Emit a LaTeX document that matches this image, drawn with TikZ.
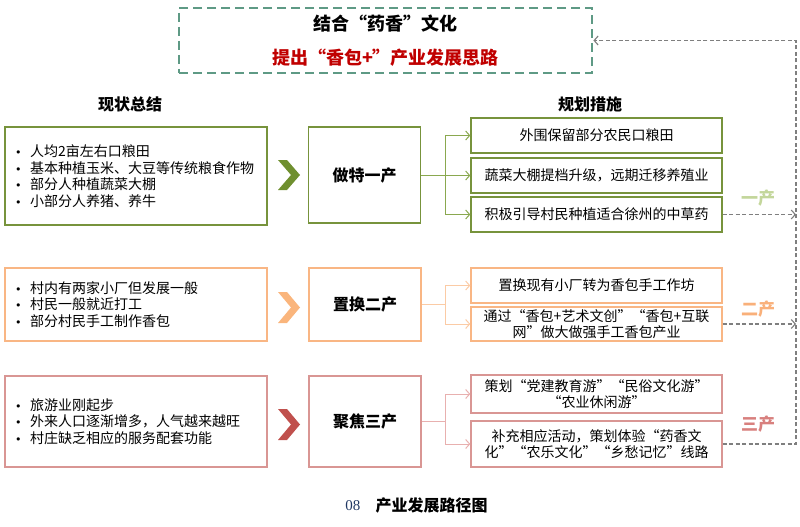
\documentclass[tikz,border=0pt]{standalone}
\usepackage{fontspec}
\setmainfont{Noto Sans CJK SC}
\newfontfamily\serifnum{Liberation Serif}
\newfontfamily\dejavu{DejaVu Sans}
\usetikzlibrary{arrows.meta}
\definecolor{gA}{HTML}{77933C}
\definecolor{gL}{HTML}{C3D69B}
\definecolor{gC}{HTML}{8AA84F}
\definecolor{oA}{HTML}{F9B684}
\definecolor{oL}{HTML}{F9B07A}
\definecolor{oC}{HTML}{FBCBA5}
\definecolor{rA}{HTML}{D99694}
\definecolor{rL}{HTML}{D8807E}
\definecolor{rC}{HTML}{E8B0AF}
\definecolor{chG}{HTML}{6F8F2F}
\definecolor{chO}{HTML}{FAB57C}
\definecolor{chR}{HTML}{C0504D}
\definecolor{teal}{HTML}{5E9A85}
\definecolor{redT}{HTML}{C00000}
\definecolor{grayD}{HTML}{7F7F7F}
\definecolor{navy}{HTML}{1F3763}
\newcommand{\bl}[1]{\makebox[15pt][l]{{\dejavu\fontsize{11}{11}\selectfont •}}#1}
\tikzset{
  body/.style={font=\fontsize{14}{16.5}\selectfont},
  lbox/.style={draw=#1, line width=1.4pt, body, minimum width=262pt, text width=242pt, align=left, inner xsep=10pt},
  mbox/.style={draw=#1, line width=1.4pt, minimum width=112pt, font=\fontsize{16}{18}\bfseries\selectfont},
  rbox/.style={draw=#1, line width=1.4pt, body, minimum width=251pt, text width=240pt, align=center, inner xsep=4pt, inner ysep=0pt},
  conn/.style={draw=#1, line width=1pt},
  carrow/.style={draw=#1, line width=1pt, -{Straight Barb[length=4pt,width=9pt]}},
  gdash/.style={draw=grayD, line width=1.1pt, dash pattern=on 4pt off 2.5pt, -{Straight Barb[length=4pt,width=9pt]}},
  lab/.style={text=#1, font=\fontsize{17}{19}\bfseries\selectfont},
  head/.style={font=\fontsize{16}{18}\bfseries\selectfont},
}
\begin{document}
\begin{tikzpicture}[x=1pt,y=-1pt]
\useasboundingbox (0,0) rectangle (800,527);

% top box
\node[draw=teal, line width=2.8pt, dash pattern=on 9pt off 5pt, minimum width=413pt, minimum height=65pt] (T) at (385.5,40.5) {};
\node[font=\fontsize{18}{20}\bfseries\selectfont] (T1) at (385.5,24) {结合“药香”文化};
\node[font=\fontsize{18}{20}\bfseries\selectfont, text=redT] (T2) at (385.5,58) {提出“香包+”产业发展思路};

% headers
\node[head] (H1) at (130,104) {现状总结};
\node[head] (H2) at (590,104) {规划措施};

% row 1
\node[lbox=gA, minimum height=98pt] (L1) at (136,176) {\bl{人均2亩左右口粮田}\\\bl{基本种植玉米、大豆等传统粮食作物}\\\bl{部分人种植蔬菜大棚}\\\bl{小部分人养猪、养牛}};
\fill[chG] (278,160) -- (287,160) -- (300,175) -- (287,190) -- (278,190) -- (291,175) -- cycle;
\node[mbox=gA, minimum height=96pt] (M1) at (364.5,175) {做特一产};
\node[rbox=gA, minimum height=35pt] (R1a) at (596.5,135.5) {外围保留部分农民口粮田};
\node[rbox=gA, minimum height=35pt] (R1b) at (596.5,175.5) {蔬菜大棚提档升级，远期迁移养殖业};
\node[rbox=gA, minimum height=35pt] (R1c) at (596.5,214.5) {积极引导村民种植适合徐州的中草药};
\coordinate (J1) at (445,175);
\draw[conn=gC] (M1.east) -- (J1);
\draw[carrow=gC] (J1) |- (R1a.west);
\draw[carrow=gC] (J1) |- (R1b.west);
\draw[carrow=gC] (J1) |- (R1c.west);

% row 2
\node[lbox=oA, minimum height=73pt] (L2) at (136,304.5) {\bl{村内有两家小厂但发展一般}\\\bl{村民一般就近打工}\\\bl{部分村民手工制作香包}};
\fill[chO] (278,292) -- (287,292) -- (300,307.5) -- (287,323) -- (278,323) -- (291,307.5) -- cycle;
\node[mbox=oA, minimum height=73pt] (M2) at (365,304.5) {置换二产};
\node[rbox=oA, minimum height=35pt] (R2a) at (596.5,285.5) {置换现有小厂转为香包手工作坊};
\node[rbox=oA, minimum height=34pt] (R2b) at (596.5,324) {通过“香包+艺术文创”“香包+互联\\网”做大做强手工香包产业};
\coordinate (J2) at (445,304.5);
\draw[conn=oC] (M2.east) -- (J2);
\draw[carrow=oC] (J2) |- (R2a.west);
\draw[carrow=oC] (J2) |- (R2b.west);

% row 3
\node[lbox=rA, minimum height=91pt] (L3) at (136,421.5) {\bl{旅游业刚起步}\\\bl{外来人口逐渐增多，人气越来越旺}\\\bl{村庄缺乏相应的服务配套功能}};
\fill[chR] (278,409) -- (287,409) -- (300,424.5) -- (287,440) -- (278,440) -- (291,424.5) -- cycle;
\node[mbox=rA, minimum height=91pt] (M3) at (365,421.5) {聚焦三产};
\node[rbox=rA, minimum height=38pt] (R3a) at (596.5,394) {策划“党建教育游”“民俗文化游”\\“农业休闲游”};
\node[rbox=rA, minimum height=46pt] (R3b) at (596.5,444) {补充相应活动，策划体验“药香文\\化”“农乐文化”“乡愁记忆”线路};
\coordinate (J3) at (445,421.5);
\draw[conn=rC] (M3.east) -- (J3);
\draw[carrow=rC] (J3) |- (R3a.west);
\draw[carrow=rC] (J3) |- (R3b.west);

% right dashed feedback
\coordinate (V1) at (796,214.5);
\coordinate (V2) at (796,324);
\coordinate (V3) at (796,444);
\coordinate (VT) at (796,40.5);
\draw[gdash] (R1c.east) -- (V1);
\draw[gdash] (R2b.east) -- (V2);
\draw[gdash] (R3b.east) -- (V3) -- (VT) -- (T.east);
\node[lab=gL] (Y1) at (758,198) {一产};
\node[lab=oL] (Y2) at (758,309) {二产};
\node[lab=rL] (Y3) at (758,424) {三产};

% caption
\node[anchor=east, text=navy, font=\serifnum\fontsize{15}{17}\selectfont] (C1) at (364,506) {08};
\node[anchor=west, font=\fontsize{16}{18}\bfseries\selectfont] (C2) at (372,505) {产业发展路径图};
\end{tikzpicture}
\end{document}
